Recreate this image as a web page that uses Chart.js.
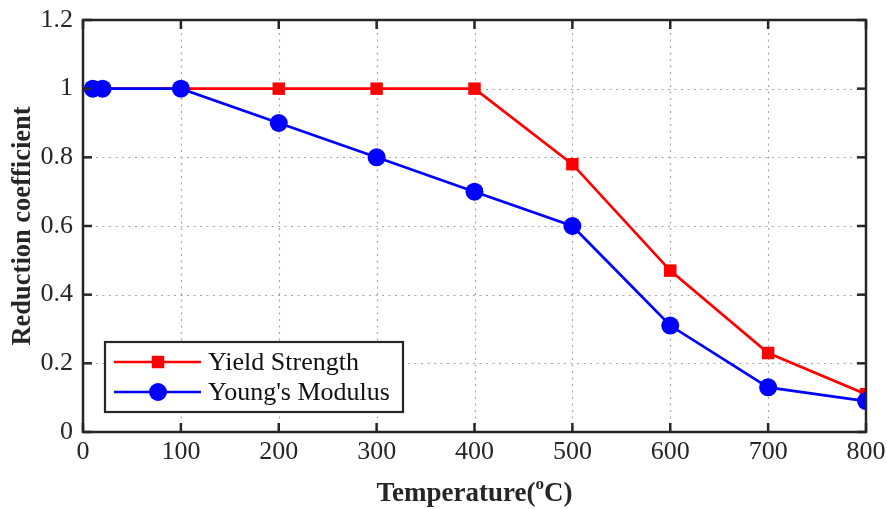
<!DOCTYPE html>
<html>
<head>
<meta charset="utf-8">
<script src="https://cdn.jsdelivr.net/npm/chart.js@4"></script>
<style>
html,body{margin:0;padding:0;background:#fff;}
#wrap{width:887px;height:509px;position:relative;}
</style>
</head>
<body>
<div id="wrap"><canvas id="c" width="887" height="509"></canvas></div>
<script>
const temperatures = [10, 20, 100, 200, 300, 400, 500, 600, 700, 800];
const yieldStrength = [1, 1, 1, 1, 1, 1, 0.78, 0.47, 0.23, 0.11];
const youngsModulus = [1, 1, 1, 0.9, 0.8, 0.7, 0.6, 0.31, 0.13, 0.09];
const seriesLabels = ['Yield Strength', "Young's Modulus"];
const xTickLabels = ['0','100','200','300','400','500','600','700','800'];
const yTickLabels = ['0','0.2','0.4','0.6','0.8','1','1.2'];
const xTitle = ['Temperature(', 'o', 'C)'];
const yTitle = 'Reduction coefficient';

const AXIS = '#262626';
const SERIF = '"Liberation Serif", "Times New Roman", serif';

const toPts = (xs, ys) => xs.map((x, i) => ({x: x, y: ys[i]}));

const framePlugin = {
  id: 'frame',
  beforeDatasetsDraw(chart) {
    const {ctx, chartArea: a, scales: {x, y}} = chart;
    ctx.save();
    ctx.strokeStyle = '#a6a6a6';
    ctx.lineWidth = 1.2;
    ctx.setLineDash([2, 4.5]);
    x.ticks.forEach(t => {
      const px = Math.round(x.getPixelForValue(t.value)) + 0.5;
      if (px <= a.left + 2 || px >= a.right - 2) return;
      ctx.beginPath(); ctx.moveTo(px, a.top); ctx.lineTo(px, a.bottom); ctx.stroke();
    });
    y.ticks.forEach(t => {
      const py = Math.round(y.getPixelForValue(t.value)) + 0.5;
      if (py <= a.top + 2 || py >= a.bottom - 2) return;
      ctx.beginPath(); ctx.moveTo(a.left, py); ctx.lineTo(a.right, py); ctx.stroke();
    });
    ctx.restore();
  },
  afterDatasetsDraw(chart) {
    const {ctx, chartArea: a, scales: {x, y}} = chart;
    ctx.save();
    ctx.strokeStyle = AXIS;
    ctx.lineWidth = 2.5;
    ctx.setLineDash([]);
    ctx.strokeRect(a.left, a.top, a.right - a.left, a.bottom - a.top);
    const tl = 9;
    x.ticks.forEach(t => {
      const px = x.getPixelForValue(t.value);
      ctx.beginPath(); ctx.moveTo(px, a.bottom); ctx.lineTo(px, a.bottom - tl); ctx.stroke();
      ctx.beginPath(); ctx.moveTo(px, a.top); ctx.lineTo(px, a.top + tl); ctx.stroke();
    });
    y.ticks.forEach(t => {
      const py = y.getPixelForValue(t.value);
      ctx.beginPath(); ctx.moveTo(a.left, py); ctx.lineTo(a.left + tl, py); ctx.stroke();
      ctx.beginPath(); ctx.moveTo(a.right, py); ctx.lineTo(a.right - tl, py); ctx.stroke();
    });

    // legend
    const lx = a.left + 22, lw = 298, lh = 70;
    const ly = a.bottom - 20 - lh;
    ctx.fillStyle = '#fff';
    ctx.fillRect(lx, ly, lw, lh);
    ctx.lineWidth = 2.2;
    ctx.strokeStyle = AXIS;
    ctx.strokeRect(lx, ly, lw, lh);
    const rows = [ly + 20, ly + 50];
    chart.data.datasets.forEach((ds, i) => {
      const ry = rows[i];
      ctx.strokeStyle = ds.borderColor;
      ctx.lineWidth = ds.borderWidth;
      ctx.beginPath(); ctx.moveTo(lx + 9, ry); ctx.lineTo(lx + 96, ry); ctx.stroke();
      ctx.fillStyle = ds.backgroundColor;
      if (ds.pointStyle === 'rect') {
        const s = ds.pointRadius * Math.SQRT1_2;
        ctx.fillRect(lx + 53 - s, ry - s, 2 * s, 2 * s);
      } else {
        ctx.beginPath(); ctx.arc(lx + 53, ry, ds.pointRadius, 0, Math.PI * 2); ctx.fill();
      }
      ctx.fillStyle = '#111';
      ctx.font = '26px ' + SERIF;
      ctx.textBaseline = 'middle';
      ctx.textAlign = 'left';
      ctx.fillText(ds.label, lx + 103, ry + 1);
    });

    // axis titles
    ctx.fillStyle = '#262626';
    ctx.textBaseline = 'middle';
    const f1 = 'bold 27px ' + SERIF, f2 = 'bold 17px ' + SERIF;
    ctx.font = f1; const w1 = ctx.measureText(xTitle[0]).width, w3 = ctx.measureText(xTitle[2]).width;
    ctx.font = f2; const w2 = ctx.measureText(xTitle[1]).width;
    const cx = (a.left + a.right) / 2;
    let sx = cx - (w1 + w2 + w3) / 2;
    const ty = 494;
    ctx.textAlign = 'left';
    ctx.font = f1; ctx.fillText(xTitle[0], sx, ty); sx += w1;
    ctx.font = f2; ctx.fillText(xTitle[1], sx, ty - 9); sx += w2;
    ctx.font = f1; ctx.fillText(xTitle[2], sx, ty);

    ctx.translate(23, (a.top + a.bottom) / 2);
    ctx.rotate(-Math.PI / 2);
    ctx.textAlign = 'center';
    ctx.font = 'bold 26.5px ' + SERIF;
    ctx.fillText(yTitle, 0, 0);
    ctx.restore();
  }
};

new Chart(document.getElementById('c'), {
  type: 'line',
  data: {
    datasets: [
      {
        label: seriesLabels[0],
        data: toPts(temperatures, yieldStrength),
        borderColor: '#ff0000',
        backgroundColor: '#ff0000',
        borderWidth: 2.7,
        pointStyle: 'rect',
        pointRadius: 8.8,
        pointBorderWidth: 0,
        order: 1
      },
      {
        label: seriesLabels[1],
        data: toPts(temperatures, youngsModulus),
        borderColor: '#0000ff',
        backgroundColor: '#0000ff',
        borderWidth: 2.7,
        pointStyle: 'circle',
        pointRadius: 9,
        pointBorderWidth: 0,
        order: 0
      }
    ]
  },
  options: {
    responsive: false,
    animation: false,
    layout: {padding: {top: 20, right: 21, left: 0, bottom: 0}},
    plugins: {legend: {display: false}, tooltip: {enabled: false}},
    scales: {
      x: {
        type: 'linear', min: 0, max: 800,
        afterFit(s) { s.height = 77; s.paddingLeft = 0; s.paddingRight = 0; },
        ticks: {
          stepSize: 100, padding: 5, color: '#262626',
          font: {family: SERIF, size: 26},
          maxRotation: 0,
          callback: (v, i) => xTickLabels[i]
        },
        grid: {display: false, drawTicks: false},
        border: {display: false}
      },
      y: {
        type: 'linear', min: 0, max: 1.2,
        afterFit(s) { s.width = 83; s.paddingTop = 0; s.paddingBottom = 0; },
        ticks: {
          stepSize: 0.2, padding: 10, color: '#262626',
          font: {family: SERIF, size: 26},
          callback: (v, i) => yTickLabels[i]
        },
        grid: {display: false, drawTicks: false},
        border: {display: false}
      }
    }
  },
  plugins: [framePlugin]
});
</script>
</body>
</html>
